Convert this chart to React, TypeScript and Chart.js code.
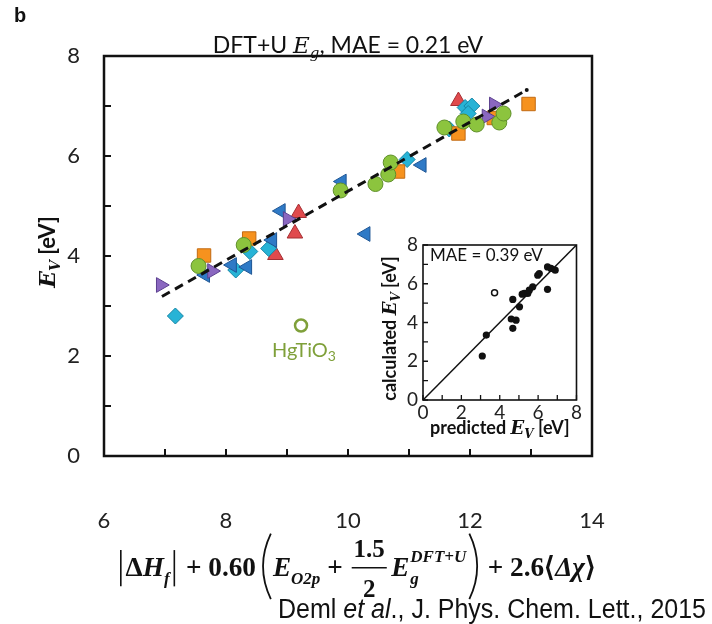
import React, { useEffect, useRef } from "react";
import { Chart, registerables } from "chart.js";
Chart.register(...registerables);

// ---------- main panel data: x = descriptor, y = E_V [eV] ----------
const circleX = [7.55, 8.29, 9.88, 10.45, 10.66, 10.70, 11.58, 11.89, 12.11, 12.48, 12.55];
const circleY = [3.80, 4.22, 5.31, 5.44, 5.63, 5.87, 6.57, 6.69, 6.63, 6.67, 6.85];
const squareX = [7.64, 8.38, 10.82, 11.81, 12.39, 12.96];
const squareY = [4.01, 4.35, 5.69, 6.45, 6.76, 7.04];
const diamondX = [7.17, 8.16, 8.39, 8.70, 10.97, 11.66, 11.92, 12.03, 11.97];
const diamondY = [2.80, 3.72, 4.09, 4.15, 5.93, 6.54, 6.97, 7.00, 6.85];
const leftTriX = [7.66, 8.10, 8.35, 8.76, 8.90, 9.90, 10.29, 11.21];
const leftTriY = [3.62, 3.82, 3.78, 4.32, 4.90, 5.49, 4.44, 5.82];
const rightTriX = [6.93, 7.77, 9.01, 12.27, 12.39];
const rightTriY = [3.42, 3.70, 4.74, 6.79, 7.03];
const upTriX = [8.81, 9.13, 9.19, 11.81];
const upTriY = [4.02, 4.45, 4.86, 7.10];
const outlierX = [9.23];
const outlierY = [2.61];
const outlierName = "HgTiO";
const outlierSub = "3";
const fitX = [6.95, 12.93];
const fitY = [3.19, 7.32];
const mainXRange = [6, 14];
const mainYRange = [0, 8];
const mainXLabels = [6, 8, 10, 12, 14];
const mainYLabels = [0, 2, 4, 6, 8];

// ---------- inset data ----------
const insetPredX = [3.09, 3.30, 4.60, 4.68, 4.68, 4.85, 5.03, 5.17, 5.28, 5.46, 5.54, 5.72, 5.98, 6.06, 6.49, 6.49, 6.67, 6.89];
const insetCalcY = [2.27, 3.35, 4.18, 3.70, 5.19, 4.12, 4.81, 5.46, 5.50, 5.50, 5.67, 5.84, 6.44, 6.53, 6.87, 5.71, 6.79, 6.70];
const insetOpenX = [3.73];
const insetOpenY = [5.53];
const parityX = [0, 8];
const parityY = [0, 8];
const insetRange = [0, 8];
const insetLabels = [0, 2, 4, 6, 8];

const pts = (xs: number[], ys: number[]) => xs.map((x, i) => ({ x, y: ys[i] }));

type Run = { t: string; f: string; dy?: number };
function runsWidth(ctx: CanvasRenderingContext2D, runs: Run[]) {
  let w = 0;
  for (const r of runs) { ctx.font = r.f; w += ctx.measureText(r.t).width; }
  return w;
}
function drawRuns(ctx: CanvasRenderingContext2D, runs: Run[], x: number, y: number, align: "left" | "center" = "center") {
  let cx = align === "center" ? x - runsWidth(ctx, runs) / 2 : x;
  ctx.textAlign = "left";
  ctx.textBaseline = "alphabetic";
  for (const r of runs) {
    ctx.font = r.f;
    ctx.fillText(r.t, cx, y + (r.dy || 0));
    cx += ctx.measureText(r.t).width;
  }
}

function formulaElems(s: number) {
  const fam = '"Liberation Serif"';
  const B = `bold ${s}px ${fam}`;
  const BI = `italic bold ${s}px ${fam}`;
  const S = `italic bold ${Math.round(s * 0.64)}px ${fam}`;
  const SB = `bold ${Math.round(s * 0.9)}px ${fam}`;
  return [
    { k: "bar" },
    { k: "t", t: "Δ", f: B },
    { k: "t", t: "H", f: BI },
    { k: "t", t: "f", f: S, dy: s * 0.3 },
    { k: "bar" },
    { k: "t", t: " + 0.60", f: B },
    { k: "sp", w: s * 0.12 },
    { k: "paren", side: "l" },
    { k: "t", t: "E", f: BI },
    { k: "t", t: "O2p", f: S, dy: s * 0.3 },
    { k: "t", t: " + ", f: B },
    { k: "frac", num: "1.5", den: "2", f: SB },
    { k: "sp", w: s * 0.08 },
    { k: "t", t: "E", f: BI },
    { k: "ss", sub: "g", sup: "DFT+U", f: S },
    { k: "paren", side: "r" },
    { k: "t", t: " + 2.6", f: B },
    { k: "t", t: "⟨", f: B },
    { k: "t", t: "Δχ", f: BI },
    { k: "t", t: "⟩", f: B },
  ] as any[];
}
function elemWidth(ctx: CanvasRenderingContext2D, e: any, s: number) {
  if (e.k === "t") { ctx.font = e.f; return ctx.measureText(e.t).width; }
  if (e.k === "sp") return e.w;
  if (e.k === "bar") return s * 0.35;
  if (e.k === "paren") return s * 0.5;
  if (e.k === "ss") { ctx.font = e.f; return Math.max(ctx.measureText(e.sub).width, ctx.measureText(e.sup).width) + 2; }
  if (e.k === "frac") { ctx.font = e.f; return Math.max(ctx.measureText(e.num).width, ctx.measureText(e.den).width) + s * 0.3; }
  return 0;
}
function drawFormula(ctx: CanvasRenderingContext2D, cx: number, by: number, targetW: number) {
  const total = (sz: number) => formulaElems(sz).reduce((a, e) => a + elemWidth(ctx, e, sz), 0);
  const s = 20 * targetW / total(20);
  const els = formulaElems(s);
  let x = cx - total(s) / 2;
  ctx.textAlign = "left";
  ctx.textBaseline = "alphabetic";
  ctx.fillStyle = "#111";
  ctx.strokeStyle = "#111";
  for (const e of els) {
    const w = elemWidth(ctx, e, s);
    if (e.k === "t") { ctx.font = e.f; ctx.fillText(e.t, x, by + (e.dy || 0)); }
    else if (e.k === "bar") {
      ctx.lineWidth = 1.6;
      ctx.beginPath(); ctx.moveTo(x + w / 2, by - s * 0.95); ctx.lineTo(x + w / 2, by + s * 0.38); ctx.stroke();
    } else if (e.k === "paren") {
      const top = by - s * 1.55, bot = by + s * 0.85, mid = (top + bot) / 2;
      ctx.lineWidth = 1.8;
      ctx.beginPath();
      if (e.side === "l") { ctx.moveTo(x + w * 0.85, top); ctx.quadraticCurveTo(x - w * 0.3, mid, x + w * 0.85, bot); }
      else { ctx.moveTo(x + w * 0.15, top); ctx.quadraticCurveTo(x + w * 1.3, mid, x + w * 0.15, bot); }
      ctx.stroke();
    } else if (e.k === "ss") {
      ctx.font = e.f;
      ctx.fillText(e.sub, x + 1, by + s * 0.3);
      ctx.fillText(e.sup, x + 1, by - s * 0.52);
    } else if (e.k === "frac") {
      ctx.font = e.f;
      const c = x + w / 2;
      const nw = ctx.measureText(e.num).width, dw = ctx.measureText(e.den).width;
      ctx.fillText(e.num, c - nw / 2, by - s * 0.7);
      ctx.fillText(e.den, c - dw / 2, by + s * 0.76);
      ctx.lineWidth = 1.4;
      ctx.beginPath(); ctx.moveTo(x + s * 0.08, by - s * 0.3); ctx.lineTo(x + w - s * 0.08, by - s * 0.3); ctx.stroke();
    }
    x += w;
  }
}

const mainDecor = {
  id: "mainDecor",
  afterDraw(chart: any) {
    const { ctx, chartArea: a } = chart;
    const xs = chart.scales.x, ys = chart.scales.y;
    ctx.save();
    ctx.strokeStyle = "#111";
    ctx.lineWidth = 2.5;
    ctx.strokeRect(a.left, a.top, a.right - a.left, a.bottom - a.top);
    ctx.lineWidth = 2;
    ctx.beginPath();
    xs.ticks.forEach((t: any) => { const p = xs.getPixelForValue(t.value); ctx.moveTo(p, a.bottom); ctx.lineTo(p, a.bottom - 7); });
    ys.ticks.forEach((t: any) => { const p = ys.getPixelForValue(t.value); ctx.moveTo(a.left, p); ctx.lineTo(a.left + 7, p); });
    ctx.stroke();

    ctx.fillStyle = "#111";
    ctx.font = 'bold 20px "Liberation Sans"';
    ctx.textAlign = "left"; ctx.textBaseline = "alphabetic";
    ctx.fillText("b", 14, 22);

    drawRuns(ctx, [
      { t: "DFT+U ", f: "23px Lato" },
      { t: "E", f: 'italic 23px "DejaVu Serif"' },
      { t: "g", f: 'italic 15px "DejaVu Serif"', dy: 5 },
      { t: ", MAE = 0.21 eV", f: "23px Lato" },
    ], (a.left + a.right) / 2, 53);

    ctx.save();
    ctx.translate(47, (a.top + a.bottom) / 2 - 4);
    ctx.rotate(-Math.PI / 2);
    drawRuns(ctx, [
      { t: "E", f: 'italic bold 22px "DejaVu Serif"' },
      { t: "V", f: 'italic bold 14px "DejaVu Serif"', dy: 5 },
      { t: " [eV]", f: "bold 22px Lato" },
    ], 0, 8);
    ctx.restore();

    drawFormula(ctx, (a.left + a.right) / 2 + 8, 576, 484);

    const ox = xs.getPixelForValue(outlierX[0]);
    const oy = ys.getPixelForValue(outlierY[0]);
    ctx.fillStyle = "#7fa03a";
    drawRuns(ctx, [
      { t: outlierName, f: "20px Lato" },
      { t: outlierSub, f: "14px Lato", dy: 4 },
    ], ox + 3, oy + 31);

    ctx.fillStyle = "#111";
    const cit: Run[] = [
      { t: "Deml ", f: '27px "Liberation Sans"' },
      { t: "et al", f: 'italic 27px "Liberation Sans"' },
      { t: "., J. Phys. Chem. Lett., 2015", f: '27px "Liberation Sans"' },
    ];
    const cw = runsWidth(ctx, cit);
    ctx.save();
    ctx.translate(278, 618);
    ctx.scale(428 / cw, 1);
    drawRuns(ctx, cit, 0, 0, "left");
    ctx.restore();
    ctx.restore();
  },
};

const insetDecor = {
  id: "insetDecor",
  afterDraw(chart: any) {
    const { ctx, chartArea: a } = chart;
    const xs = chart.scales.x, ys = chart.scales.y;
    ctx.save();
    ctx.strokeStyle = "#111";
    ctx.lineWidth = 1.6;
    ctx.strokeRect(a.left, a.top, a.right - a.left, a.bottom - a.top);
    ctx.lineWidth = 1.3;
    ctx.beginPath();
    xs.ticks.forEach((t: any) => { const p = xs.getPixelForValue(t.value); ctx.moveTo(p, a.bottom); ctx.lineTo(p, a.bottom - 5); });
    ys.ticks.forEach((t: any) => { const p = ys.getPixelForValue(t.value); ctx.moveTo(a.left, p); ctx.lineTo(a.left + 5, p); });
    ctx.stroke();
    ctx.fillStyle = "#111";
    drawRuns(ctx, [{ t: "MAE = 0.39 eV", f: "17px Lato" }], a.left + 7, a.top + 16, "left");
    ctx.save();
    ctx.translate(22, (a.top + a.bottom) / 2 + 6);
    ctx.rotate(-Math.PI / 2);
    drawRuns(ctx, [
      { t: "calculated ", f: "bold 18px Lato" },
      { t: "E", f: 'italic bold 18px "DejaVu Serif"' },
      { t: "V", f: 'italic bold 12px "DejaVu Serif"', dy: 4 },
      { t: " [eV]", f: "bold 18px Lato" },
    ], 0, 6);
    ctx.restore();
    drawRuns(ctx, [
      { t: "predicted ", f: "bold 18px Lato" },
      { t: "E", f: 'italic bold 18px "DejaVu Serif"' },
      { t: "V", f: 'italic bold 12px "DejaVu Serif"', dy: 4 },
      { t: " [eV]", f: "bold 18px Lato" },
    ], (a.left + a.right) / 2, 206);
    ctx.restore();
  },
};

const insetBg = {
  id: "insetBg",
  beforeDatasetsDraw(chart: any) {
    const { ctx, chartArea: a } = chart;
    ctx.save();
    ctx.fillStyle = "#fff";
    ctx.fillRect(a.left, a.top, a.right - a.left, a.bottom - a.top);
    ctx.restore();
  },
};

function marker(label: string, xs: number[], ys: number[], style: string, r: number, bg: string, border: string, rot = 0, order = 2) {
  return {
    label, data: pts(xs, ys), pointStyle: style, pointRadius: r, pointRotation: rot,
    pointBackgroundColor: bg, pointBorderColor: border, pointBorderWidth: 1, showLine: false, order,
  };
}

export default function App() {
  const mainRef = useRef<HTMLCanvasElement>(null);
  const insetRef = useRef<HTMLCanvasElement>(null);

  useEffect(() => {
    const evenLabel = (labels: number[]) => (v: any) => (labels.includes(Number(v)) ? String(v) : "");
    const main = new Chart(mainRef.current as HTMLCanvasElement, {
      type: "scatter",
      data: {
        datasets: [
          {
            label: "fit", data: pts(fitX, fitY), showLine: true, borderColor: "#111", borderWidth: 3,
            borderDash: [9, 6], pointRadius: [0, 2], pointBackgroundColor: "#111", pointBorderWidth: 0, order: 0,
          } as any,
          marker("cyan", diamondX, diamondY, "rectRot", 8, "#27b3d6", "#1686a6", 0, 3),
          marker("red", upTriX, upTriY, "triangle", 9, "#e04a4d", "#a52f33", 0, 3),
          marker("purple", rightTriX, rightTriY, "triangle", 8.5, "#8a67c0", "#5b3f8f", 90, 2),
          marker("blue", leftTriX, leftTriY, "triangle", 8.5, "#2f7ac6", "#1d5594", -90, 2),
          marker("orange", squareX, squareY, "rect", 9.5, "#f6921e", "#c26a12", 0, 2),
          marker("green", circleX, circleY, "circle", 7.5, "#8cc43e", "#5f8f2a", 0, 1),
          {
            label: "HgTiO3", data: pts(outlierX, outlierY), pointStyle: "circle", pointRadius: 6,
            pointBackgroundColor: "#fff", pointBorderColor: "#7fa03a", pointBorderWidth: 2.5, order: 1,
          } as any,
        ],
      },
      options: {
        responsive: false, animation: false, devicePixelRatio: 1,
        layout: { padding: { top: 56, right: 120, left: 0, bottom: 0 } },
        plugins: { legend: { display: false }, tooltip: { enabled: false } },
        scales: {
          x: {
            type: "linear", min: mainXRange[0], max: mainXRange[1],
            afterFit: (s: any) => { s.height = 168; },
            grid: { display: false, drawTicks: false }, border: { display: false },
            ticks: { stepSize: 1, autoSkip: false, maxRotation: 0, padding: 52, color: "#222", font: { family: "Lato", size: 22 }, callback: evenLabel(mainXLabels) },
          },
          y: {
            type: "linear", min: mainYRange[0], max: mainYRange[1],
            afterFit: (s: any) => { s.width = 104; },
            grid: { display: false, drawTicks: false }, border: { display: false },
            ticks: { stepSize: 1, autoSkip: false, padding: 24, color: "#222", font: { family: "Lato", size: 22 }, callback: evenLabel(mainYLabels) },
          },
        },
      } as any,
      plugins: [mainDecor],
    });

    const inset = new Chart(insetRef.current as HTMLCanvasElement, {
      type: "scatter",
      data: {
        datasets: [
          { label: "parity", data: pts(parityX, parityY), showLine: true, borderColor: "#111", borderWidth: 1.5, pointRadius: 0, order: 2 } as any,
          { label: "calc", data: pts(insetPredX, insetCalcY), pointRadius: 3.6, pointBackgroundColor: "#111", pointBorderColor: "#111", pointBorderWidth: 0, order: 1 } as any,
          { label: "open", data: pts(insetOpenX, insetOpenY), pointRadius: 3, pointBackgroundColor: "#fff", pointBorderColor: "#111", pointBorderWidth: 1.5, order: 1 } as any,
        ],
      },
      options: {
        responsive: false, animation: false, devicePixelRatio: 1,
        layout: { padding: { top: 17, right: 6, left: 0, bottom: 0 } },
        plugins: { legend: { display: false }, tooltip: { enabled: false } },
        scales: {
          x: {
            type: "linear", min: insetRange[0], max: insetRange[1],
            afterFit: (s: any) => { s.height = 40; },
            grid: { display: false, drawTicks: false }, border: { display: false },
            ticks: { stepSize: 1, autoSkip: false, maxRotation: 0, padding: 1, color: "#222", font: { family: "Lato", size: 19 }, callback: evenLabel(insetLabels) },
          },
          y: {
            type: "linear", min: insetRange[0], max: insetRange[1],
            afterFit: (s: any) => { s.width = 55; },
            grid: { display: false, drawTicks: false }, border: { display: false },
            ticks: { stepSize: 1, autoSkip: false, padding: 5, color: "#222", font: { family: "Lato", size: 19 }, callback: evenLabel(insetLabels) },
          },
        },
      } as any,
      plugins: [insetBg, insetDecor],
    });

    return () => { main.destroy(); inset.destroy(); };
  }, []);

  return (
    <div style={{ position: "fixed", left: 0, top: 0, width: 712, height: 624, background: "#fff" }}>
      <canvas ref={mainRef} width={712} height={624} style={{ position: "absolute", left: 0, top: 0, width: 712, height: 624 }} />
      <canvas ref={insetRef} width={215} height={212} style={{ position: "absolute", left: 368, top: 228, width: 215, height: 212 }} />
    </div>
  );
}
